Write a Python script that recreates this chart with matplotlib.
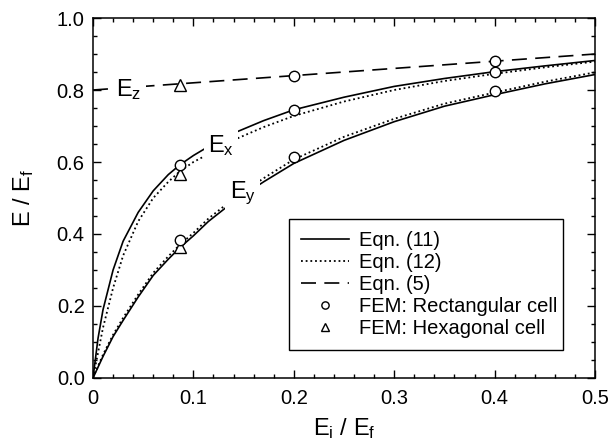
import matplotlib
matplotlib.use('Agg')
import matplotlib.pyplot as plt
from matplotlib.ticker import MultipleLocator

plt.rcParams['font.family'] = ['Liberation Sans', 'DejaVu Sans']
plt.rcParams['mathtext.fontset'] = 'custom'
plt.rcParams['mathtext.rm'] = 'Liberation Sans'
plt.rcParams['mathtext.it'] = 'Liberation Sans'

# valores
x_curva = [0, 0.005, 0.01, 0.02, 0.03, 0.045, 0.06, 0.075, 0.0865, 0.1,
           0.115, 0.14, 0.17, 0.2, 0.25, 0.3, 0.35, 0.4, 0.45, 0.5]
ex_eq11 = [0, 0.11, 0.19, 0.30, 0.38, 0.46, 0.52, 0.565, 0.592, 0.618,
           0.643, 0.680, 0.715, 0.745, 0.78, 0.81, 0.832, 0.851, 0.867, 0.882]
ex_eq12 = [0, 0.07, 0.14, 0.25, 0.34, 0.435, 0.50, 0.545, 0.574, 0.600,
           0.622, 0.661, 0.697, 0.728, 0.768, 0.80, 0.825, 0.845, 0.863, 0.879]
ey_eq11 = [0, 0.03, 0.06, 0.115, 0.16, 0.225, 0.285, 0.33, 0.362, 0.395,
           0.435, 0.49, 0.545, 0.596, 0.66, 0.712, 0.755, 0.787, 0.817, 0.843]
ey_eq12 = [0, 0.033, 0.065, 0.12, 0.167, 0.232, 0.292, 0.338, 0.37, 0.403,
           0.443, 0.498, 0.555, 0.607, 0.670, 0.720, 0.762, 0.793, 0.823, 0.849]

x_ez = [0, 0.1, 0.2, 0.3, 0.4, 0.5]
ez_eq5 = [0.80, 0.82, 0.84, 0.86, 0.88, 0.90]

x_ret = [0.0865, 0.2, 0.4, 0.0865, 0.2, 0.4, 0.2, 0.4]
y_ret = [0.592, 0.745, 0.851, 0.383, 0.613, 0.798, 0.839, 0.88]
x_hex = [0.0865, 0.0865, 0.0865]
y_hex = [0.815, 0.568, 0.365]

xticks = [0, 0.1, 0.2, 0.3, 0.4, 0.5]
xtick_labels = ['0', '0.1', '0.2', '0.3', '0.4', '0.5']
yticks = [0, 0.2, 0.4, 0.6, 0.8, 1.0]
ytick_labels = ['0.0', '0.2', '0.4', '0.6', '0.8', '1.0']

fig = plt.figure(figsize=(6.09, 4.46), dpi=100)
ax = fig.add_axes([0.1527, 0.1525, 0.8243, 0.8071])

lw = 1.2
ax.plot(x_curva, ex_eq11, '-', color='black', lw=lw, label='Eqn. (11)')
ax.plot(x_curva, ey_eq11, '-', color='black', lw=lw)
ax.plot(x_curva, ex_eq12, linestyle=(0, (1, 1.6)), color='black', lw=1.3, label='Eqn. (12)')
ax.plot(x_curva, ey_eq12, linestyle=(0, (1, 1.6)), color='black', lw=1.3)
ax.plot(x_ez, ez_eq5, linestyle=(0, (9, 5)), color='black', lw=lw, label='Eqn. (5)')

ax.plot(x_ret, y_ret, 'o', ms=7.5, mfc='white', mec='black', mew=1.0,
        label='FEM: Rectangular cell', zorder=5)
ax.plot(x_hex, y_hex, '^', ms=8, mfc='white', mec='black', mew=1.0,
        label='FEM: Hexagonal cell', zorder=4)

# rotulos das curvas (fundo branco abre o espaco na linha)
caixa = dict(facecolor='white', edgecolor='none', pad=3)
ax.text(0.036, 0.80, r'$\mathregular{E_z}$', fontsize=17, ha='center', va='center',
        bbox=caixa, zorder=3)
ax.text(0.1275, 0.647, r'$\mathregular{E_x}$', fontsize=17, ha='center', va='center',
        bbox=caixa, zorder=3)
ax.text(0.149, 0.512, r'$\mathregular{E_y}$', fontsize=17, ha='center', va='center',
        bbox=caixa, zorder=3)

ax.set_xlim(0, 0.5)
ax.set_ylim(0, 1.0)
ax.set_xticks(xticks)
ax.set_xticklabels(xtick_labels)
ax.set_yticks(yticks)
ax.set_yticklabels(ytick_labels)
ax.xaxis.set_minor_locator(MultipleLocator(0.02))
ax.yaxis.set_minor_locator(MultipleLocator(0.05))
ax.tick_params(which='both', direction='in', top=True, right=True, width=1.0)
ax.tick_params(which='major', length=6, labelsize=14.5)
ax.tick_params(axis='x', which='major', pad=8)
ax.tick_params(axis='y', which='major', pad=6)
ax.tick_params(which='minor', length=3)
for s in ax.spines.values():
    s.set_linewidth(1.1)

ax.set_xlabel(r'$\mathregular{E_i}$ / $\mathregular{E_f}$', fontsize=17, labelpad=6)
ax.set_ylabel(r'E / $\mathregular{E_f}$', fontsize=17, labelpad=15)

leg = ax.legend(loc='lower left', bbox_to_anchor=(0.390, 0.078, 0.546, 0.378),
                mode='expand', fontsize=14.5, frameon=True, fancybox=False,
                edgecolor='black', framealpha=1, handlelength=2.4,
                markerscale=0.7, borderaxespad=0, labelspacing=0.15,
                borderpad=0.6, handletextpad=0.5)
leg.get_frame().set_linewidth(1.0)

fig.savefig('out.png', dpi=100)
